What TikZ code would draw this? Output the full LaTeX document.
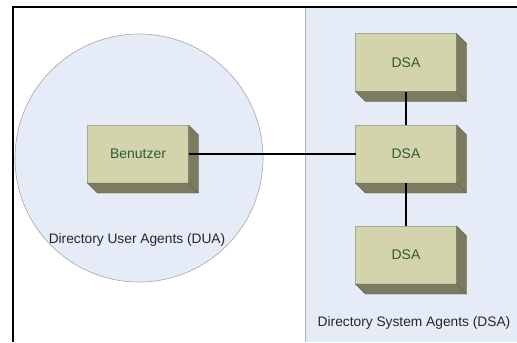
\documentclass[tikz,border=0pt]{standalone}
\usepackage{fontspec}
\setmainfont{Liberation Sans}
\definecolor{panelblue}{HTML}{E6ECF7}
\definecolor{boxfront}{HTML}{D3D4AB}
\definecolor{boxside}{HTML}{7B7B60}
\definecolor{boxedge}{HTML}{A3AC93}
\definecolor{boxtext}{HTML}{2F5B36}
\tikzset{
	agent/.style={rectangle, fill=boxfront, draw=boxedge, line width=0.6bp, outer sep=0pt,
		minimum width=101bp, minimum height=58bp, text=boxtext, font=\fontsize{14}{16}\selectfont},
	caption/.style={font=\fontsize{13.8}{16}\selectfont, text=black!85},
	link/.style={line width=2.2bp, black}
}

\begin{document}
\begin{tikzpicture}[x=1bp, y=-1bp]
	\useasboundingbox (0,0) rectangle (517,342);
	% background areas
	\fill[panelblue] (305,8) rectangle (517,342);
	\draw[black!30, line width=0.8bp] (305,8) -- (305,342);
	\filldraw[fill=panelblue, draw=black!35, line width=0.6bp] (139,158) circle (124);
	\draw[line width=2.5bp] (517,7) -- (13,7) -- (13,342);
	% agents
	\node[agent] (benutzer) at (138,154) {Benutzer};
	\node[agent] (dsaTop) at (406,62.5) {DSA};
	\node[agent] (dsaMid) at (406,154) {DSA};
	\node[agent] (dsaBot) at (406,255) {DSA};
	\foreach \n in {benutzer,dsaTop,dsaMid,dsaBot}
		\filldraw[fill=boxside, draw=boxside!80!black, line width=0.4bp] (\n.north east) -- ++(10,10)
			-- ([shift={(10,10)}]\n.south east) -- ([shift={(10,10)}]\n.south west)
			-- (\n.south west) -- (\n.south east) -- cycle (\n.south east) -- ++(10,10);
	% links
	\draw[link] (benutzer) -- (dsaMid);
	\draw[link] (dsaTop) -- (dsaMid);
	\draw[link] (dsaMid) -- (dsaBot);
	% captions
	\node[caption] (dualabel) at (137,240) {Directory User Agents (DUA)};
	\node[caption] (dsalabel) at (414,323) {Directory System Agents (DSA)};
\end{tikzpicture}
\end{document}
